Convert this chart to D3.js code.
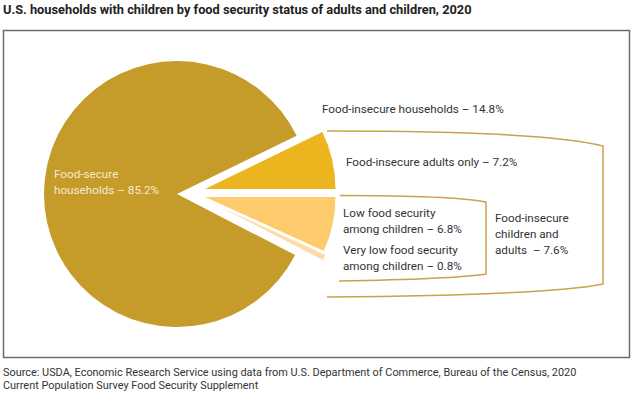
<!DOCTYPE html>
<html>
<head>
<meta charset="utf-8">
<script src="https://d3js.org/d3.v7.min.js"></script>
<style>
  body { margin: 0; background: #fff; }
  svg { display: block; }
  text { font-family: Roboto, "Liberation Sans", sans-serif; white-space: pre; }
</style>
</head>
<body>
<div id="chart"></div>
<script>
  // data
  var categories = ["Food-insecure adults only", "Low food security among children",
                    "Very low food security among children", "Food-secure households"];
  var shares = [7.2, 6.8, 0.8, 85.2];
  var colors = ["#ecb41e", "#fdcb6c", "#fcdcaa", "#c59b2a"];
  var insecureTotal = 14.8;
  var childrenTotal = 7.6;

  var width = 634, height = 398;

  var svg = d3.select("#chart").append("svg")
    .attr("width", width)
    .attr("height", height);

  // title
  svg.append("text")
    .attr("x", 3).attr("y", 13.5)
    .style("font-size", "12.8px").style("font-weight", "bold").style("fill", "#222")
    .text("U.S. households with children by food security status of adults and children, 2020");

  // frame
  svg.append("rect")
    .attr("x", 3.5).attr("y", 30.5)
    .attr("width", 626).attr("height", 327)
    .attr("fill", "none").attr("stroke", "#6b6b6b").attr("stroke-width", 1.5);

  // pie
  var radius = 133;
  var start = Math.PI / 2 - shares[0] / 100 * 2 * Math.PI;
  var pie = d3.pie().sort(null).startAngle(start).endAngle(start + 2 * Math.PI);
  var arc = d3.arc().innerRadius(0).outerRadius(radius);
  var arcs = pie(shares);

  // where each slice sits (exploded pieces pulled right)
  var centers = [[203, 189.5], [203, 196.5], [205, 199.5], [177, 194]];

  svg.selectAll("path.slice")
    .data(arcs)
    .enter().append("path")
    .attr("class", "slice")
    .attr("transform", function(d, i) { return "translate(" + centers[i][0] + "," + centers[i][1] + ")"; })
    .attr("d", arc)
    .attr("fill", function(d, i) { return colors[i]; })
    .attr("stroke", function(d, i) { return i == 3 ? "none" : "#fff"; })
    .attr("stroke-width", 1);

  // brackets
  var bracketColor = "#c9a348";
  svg.append("path")
    .attr("d", "M327,131 C450,131 560,135 603,146 L603,284 C560,293 450,296 327,297")
    .attr("fill", "none").attr("stroke", bracketColor).attr("stroke-width", 1.5);
  svg.append("path")
    .attr("d", "M340,195.5 C400,195.5 460,197 486,202 L486,274 C460,278 400,280 339,281")
    .attr("fill", "none").attr("stroke", bracketColor).attr("stroke-width", 1.5);

  // labels
  function lines(x, y, arr, step, color) {
    var t = svg.append("text").attr("x", x).attr("y", y)
      .style("font-size", "11.7px").style("fill", color || "#333");
    arr.forEach(function(s, i) {
      t.append("tspan").attr("x", x).attr("y", y + i * step).text(s);
    });
  }

  lines(54, 178, ["Food-secure", "households – " + shares[3] + "%"], 15.5, "#f6ead0");
  lines(322, 113, ["Food-insecure households – " + insecureTotal + "%"], 16);
  lines(346, 166, ["Food-insecure adults only – " + shares[0] + "%"], 16);
  lines(343, 217, ["Low food security", "among children – " + shares[1] + "%"], 16);
  lines(343, 254, ["Very low food security", "among children – " + shares[2] + "%"], 16);
  lines(495, 222, ["Food-insecure", "children and", "adults  – " + childrenTotal + "%"], 16);

  // source
  var src = svg.append("text").attr("x", 3).attr("y", 376)
    .style("font-size", "10.9px").style("fill", "#333");
  src.append("tspan").attr("x", 3).attr("y", 376)
    .text("Source: USDA, Economic Research Service using data from U.S. Department of Commerce, Bureau of the Census, 2020");
  src.append("tspan").attr("x", 3).attr("y", 389)
    .text("Current Population Survey Food Security Supplement");
</script>
</body>
</html>
